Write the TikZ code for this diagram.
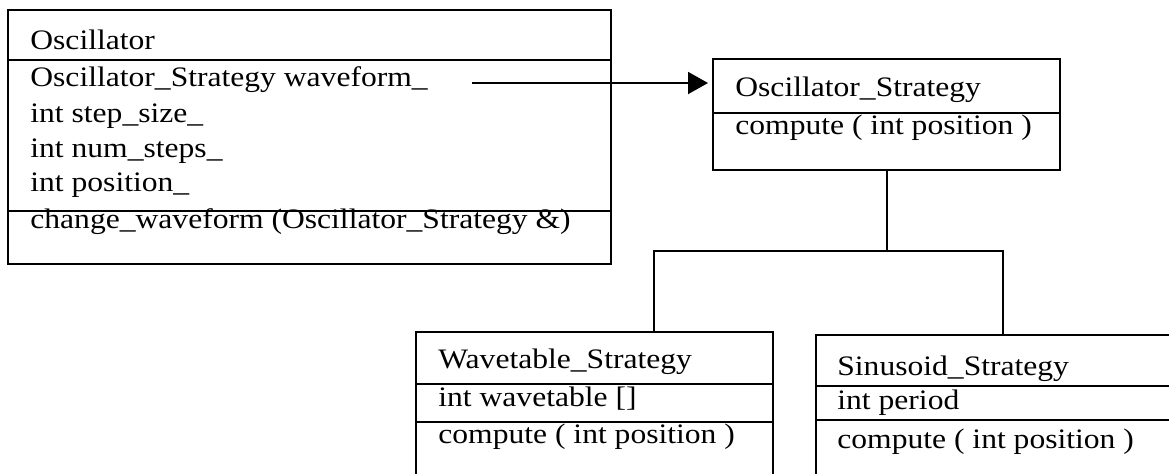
\documentclass[tikz,border=0pt]{standalone}
\usepackage{fontspec}
\setmainfont[FakeStretch=1.12]{Liberation Serif}
\usetikzlibrary{arrows.meta}
\begin{document}
\begin{tikzpicture}[x=0.5pt,y=-0.5pt,
  umlbox/.style={draw, line width=1pt, inner sep=0pt, outer sep=0pt, anchor=north west},
  sepline/.style={line width=1pt},
  txt/.style={anchor=base west, inner sep=0pt, font=\fontsize{14.1}{17}\selectfont},
  conn/.style={line width=1pt},
]
\clip (0,0) rectangle (1169,473);
% boxes
\node[umlbox, minimum width=301.5pt, minimum height=127pt] (osc) at (8,10) {};
\node[umlbox, minimum width=173.5pt, minimum height=55.5pt] (oscS) at (713,59) {};
\node[umlbox, minimum width=178.5pt, minimum height=90pt] (wave) at (416,332) {};
\node[umlbox, minimum width=200pt, minimum height=90pt] (sine) at (816,335) {};
% separators
\draw[sepline] (osc.west |- 0,60) -- (osc.east |- 0,60);
\draw[sepline] (osc.west |- 0,211) -- (osc.east |- 0,211);
\draw[sepline] (oscS.west |- 0,113) -- (oscS.east |- 0,113);
\draw[sepline] (wave.west |- 0,384) -- (wave.east |- 0,384);
\draw[sepline] (wave.west |- 0,422) -- (wave.east |- 0,422);
\draw[sepline] (sine.west |- 0,386) -- (sine.east |- 0,386);
\draw[sepline] (sine.west |- 0,420) -- (sine.east |- 0,420);
% texts
\node[txt] (o1) at (30,49) {Oscillator};
\node[txt] (o2) at (30,86) {Oscillator\_Strategy waveform\_};
\node[txt] (o3) at (30,122) {int step\_size\_};
\node[txt] (o4) at (30,157) {int num\_steps\_};
\node[txt] (o5) at (30,191) {int position\_};
\node[txt] (o6) at (30,228) {change\_waveform (Oscillator\_Strategy \&)};
\node[txt] (s1) at (735,96) {Oscillator\_Strategy};
\node[txt] (s2) at (735,134) {compute ( int position )};
\node[txt] (w1) at (438,368) {Wavetable\_Strategy};
\node[txt] (w2) at (438,406) {int wavetable []};
\node[txt] (w3) at (438,443) {compute ( int position )};
\node[txt] (n1) at (837,375) {Sinusoid\_Strategy};
\node[txt] (n2) at (837,409) {int period};
\node[txt] (n3) at (837,448) {compute ( int position )};
% connectors
\coordinate (as) at (472,83);
\coordinate (bl) at (654,251);
\coordinate (br) at (1003,251);
\draw[conn, -{Triangle[length=10pt,width=11pt]}, shorten >=2.5pt] (as) -- (oscS.west |- as);
\draw[conn] (oscS.south) -- (oscS.south |- bl);
\draw[conn] (wave.north -| bl) |- (br) -- (sine.north -| br);
\end{tikzpicture}
\end{document}
